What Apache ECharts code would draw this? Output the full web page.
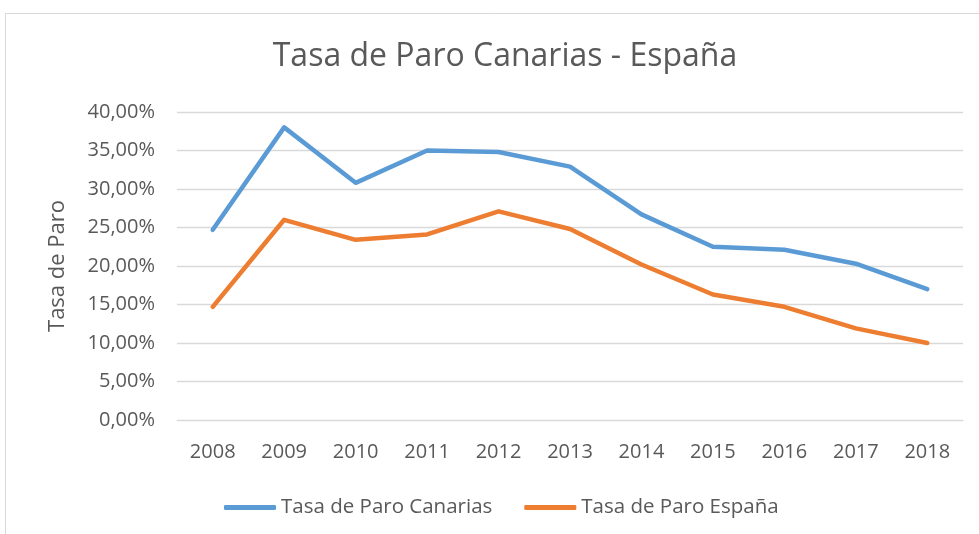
<!DOCTYPE html>
<html>
<head>
<meta charset="utf-8">
<script src="https://cdn.jsdelivr.net/npm/echarts@6/dist/echarts.min.js"></script>
<style>
  html, body { margin: 0; padding: 0; background: #fff; }
  #main { width: 979px; height: 534px; }
</style>
</head>
<body>
<div id="main"></div>
<script>
var years = ['2008', '2009', '2010', '2011', '2012', '2013', '2014', '2015', '2016', '2017', '2018'];
var canarias = [24.7, 38.0, 30.8, 35.0, 34.8, 32.9, 26.7, 22.5, 22.1, 20.3, 17.0];
var espana = [14.7, 26.0, 23.4, 24.1, 27.1, 24.8, 20.2, 16.3, 14.7, 11.9, 10.0];
var seriesNames = ['Tasa de Paro Canarias', 'Tasa de Paro España'];

var textFont = '"Open Sans", sans-serif';
var gray = '#595959';

var chart = echarts.init(document.getElementById('main'));

var option = {
    backgroundColor: '#fff',
    animation: false,
    title: {
        text: 'Tasa de Paro Canarias - España',
        left: 500,
        top: 36,
        textAlign: 'center',
        textStyle: { fontFamily: textFont, fontSize: 32, fontWeight: 'normal', color: gray }
    },
    graphic: [{
        type: 'rect',
        shape: { x: 5.5, y: 13.5, width: 1000, height: 600 },
        style: { fill: 'none', stroke: '#d9d9d9', lineWidth: 1 },
        silent: true
    }],
    legend: {
        data: seriesNames,
        left: 219,
        top: 492,
        itemWidth: 52,
        itemHeight: 5,
        itemGap: 32,
        icon: 'roundRect',
        textStyle: { fontFamily: textFont, fontSize: 20.5, color: gray }
    },
    grid: { left: 177, right: 16, top: 112, bottom: 114 },
    xAxis: {
        type: 'category',
        data: years,
        boundaryGap: true,
        axisLine: { lineStyle: { color: '#d9d9d9' } },
        axisTick: { show: false },
        axisLabel: { fontFamily: textFont, fontSize: 20, color: gray, margin: 22 }
    },
    yAxis: {
        type: 'value',
        min: 0,
        max: 40,
        interval: 5,
        name: 'Tasa de Paro',
        nameLocation: 'middle',
        nameGap: 108,
        nameTextStyle: { fontFamily: textFont, fontSize: 22, color: gray },
        axisLine: { show: false },
        axisTick: { show: false },
        splitLine: { lineStyle: { color: '#d9d9d9', width: 1.3 } },
        axisLabel: {
            fontFamily: textFont, fontSize: 20, color: gray, margin: 22,
            formatter: function (v) { return v.toFixed(2).replace('.', ',') + '%'; }
        }
    },
    series: [{
        name: seriesNames[0],
        type: 'line',
        data: canarias,
        showSymbol: false,
        symbol: 'none',
        itemStyle: { color: '#5b9bd5' },
        lineStyle: { color: '#5b9bd5', width: 4.5, cap: 'round', join: 'round' }
    }, {
        name: seriesNames[1],
        type: 'line',
        data: espana,
        showSymbol: false,
        symbol: 'none',
        itemStyle: { color: '#ed7d31' },
        lineStyle: { color: '#ed7d31', width: 4.5, cap: 'round', join: 'round' }
    }]
};

chart.setOption(option);
</script>
</body>
</html>
